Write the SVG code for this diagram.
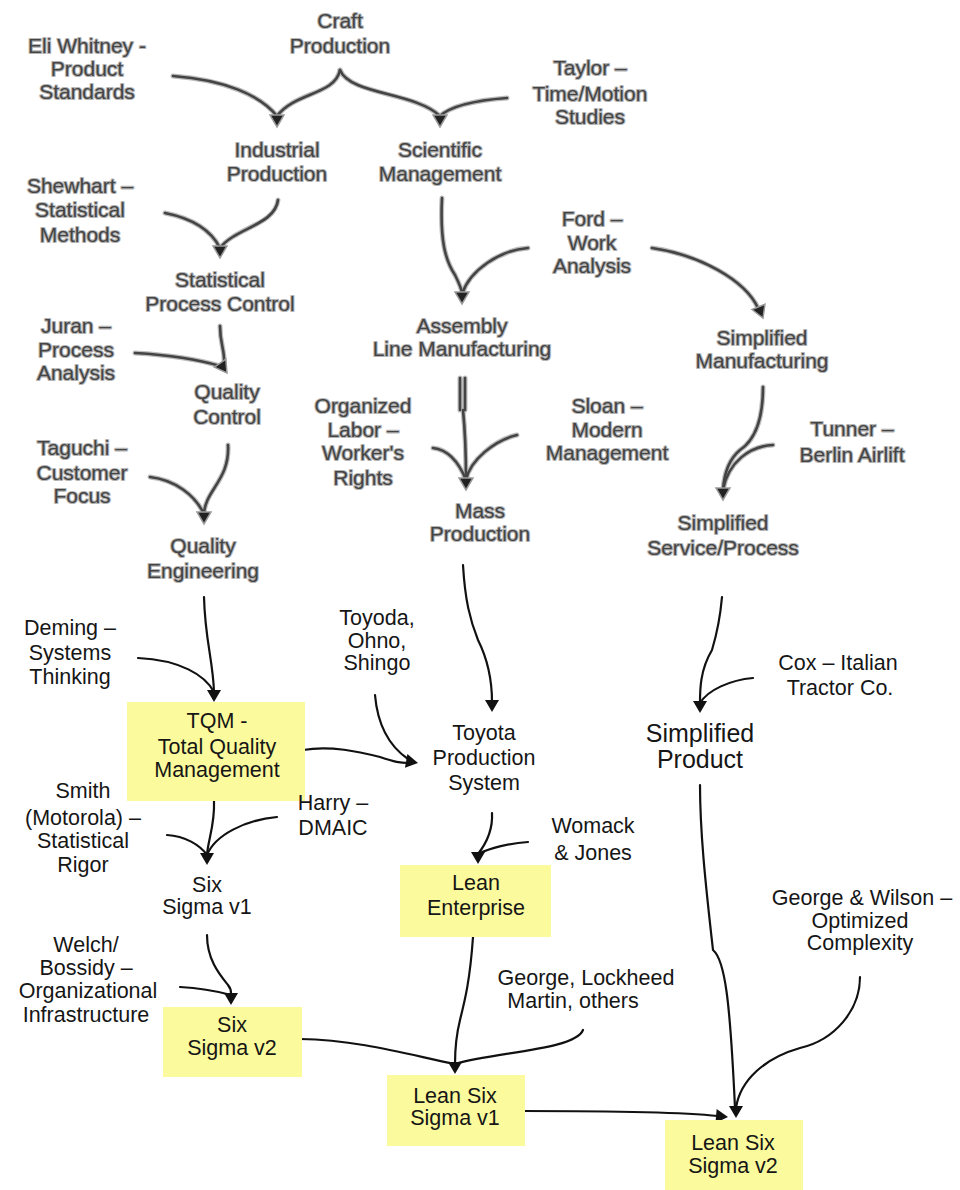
<svg xmlns="http://www.w3.org/2000/svg" xmlns:xlink="http://www.w3.org/1999/xlink" width="960" height="1190" viewBox="0 0 960 1190">
  <style>
    text { font-family: "Liberation Sans", Arial, sans-serif; font-size: 21px; text-anchor: middle; }
    .old { fill: #444; stroke: #b4b4b4; stroke-width: 2.2px; paint-order: stroke; stroke-linejoin: round; }
    .new { fill: #161616; font-size: 21.5px; }
    .big { font-size: 25px; }
    .box { fill: #fbfa9c; }
    .c-old { fill: none; stroke: #444; stroke-width: 2.6; stroke-linecap: round; }
    .c-old-halo { fill: none; stroke: #bcbcbc; stroke-width: 5; stroke-linecap: round; }
    .c { fill: none; stroke: #111; stroke-width: 2.2; stroke-linecap: round; }
    .h-old { fill: #222; stroke: #9a9a9a; stroke-width: 1.5; }
    .h { fill: #111; }
  </style>
  <defs>
    <!-- arrowhead pointing down, tip at the origin -->
    <path id="head" d="M-7,-12 L7,-12 L0,0 Z"/>
  </defs>
  <rect width="960" height="1190" fill="#fff"/>

  <!-- connectors -->
  <g id="connectors">
    <g id="old-lines">
      <g class="c-old-halo">
        <path d="M173,76 C225,80 260,95 277,116"/>
        <path d="M340,70 C335,95 295,92 277,116"/>
        <path d="M340,70 C350,95 415,92 440,116"/>
        <path d="M507,98 C480,100 452,105 440,116"/>
        <path d="M165,213 C190,218 210,228 220,248"/>
        <path d="M278,200 C275,225 235,228 220,248"/>
        <path d="M442,198 C440,240 445,260 455,275 C460,285 462,290 462,294"/>
        <path d="M528,248 C500,250 470,270 462,294"/>
        <path d="M652,248 C700,255 745,280 758,308"/>
        <path d="M220,326 C220,345 225,350 224,363"/>
        <path d="M135,353 C170,355 200,360 220,366"/>
        <path d="M228,445 C230,480 205,490 204,514"/>
        <path d="M150,477 C175,480 195,495 204,514"/>
        <path d="M460,378 L460,410 M465,378 L465,410"/>
        <path d="M463,410 C466,440 466,460 466,480"/>
        <path d="M433,448 C450,450 460,465 466,480"/>
        <path d="M517,435 C495,440 470,460 466,480"/>
        <path d="M763,387 C763,420 755,440 740,450 C728,460 724,475 723,490"/>
        <path d="M773,445 C750,446 728,462 723,490"/>
      </g>
      <g class="c-old">
        <path d="M173,76 C225,80 260,95 277,116"/>
        <path d="M340,70 C335,95 295,92 277,116"/>
        <path d="M340,70 C350,95 415,92 440,116"/>
        <path d="M507,98 C480,100 452,105 440,116"/>
        <path d="M165,213 C190,218 210,228 220,248"/>
        <path d="M278,200 C275,225 235,228 220,248"/>
        <path d="M442,198 C440,240 445,260 455,275 C460,285 462,290 462,294"/>
        <path d="M528,248 C500,250 470,270 462,294"/>
        <path d="M652,248 C700,255 745,280 758,308"/>
        <path d="M220,326 C220,345 225,350 224,363"/>
        <path d="M135,353 C170,355 200,360 220,366"/>
        <path d="M228,445 C230,480 205,490 204,514"/>
        <path d="M150,477 C175,480 195,495 204,514"/>
        <path d="M460,378 L460,410 M465,378 L465,410"/>
        <path d="M463,410 C466,440 466,460 466,480"/>
        <path d="M433,448 C450,450 460,465 466,480"/>
        <path d="M517,435 C495,440 470,460 466,480"/>
        <path d="M763,387 C763,420 755,440 740,450 C728,460 724,475 723,490"/>
        <path d="M773,445 C750,446 728,462 723,490"/>
      </g>
      <g class="h-old">
        <use xlink:href="#head" transform="translate(277,127)"/>
        <use xlink:href="#head" transform="translate(440,127)"/>
        <use xlink:href="#head" transform="translate(220,258)"/>
        <use xlink:href="#head" transform="translate(462,304)"/>
        <use xlink:href="#head" transform="translate(763,318) rotate(-22)"/>
        <use xlink:href="#head" transform="translate(227,373) rotate(-35)"/>
        <use xlink:href="#head" transform="translate(204,524)"/>
        <use xlink:href="#head" transform="translate(466,490)"/>
        <use xlink:href="#head" transform="translate(723,500)"/>
      </g>
    </g>
    <g id="new-lines">
      <g class="c">
        <path d="M204,597 C205,640 213,660 214,692"/>
        <path d="M138,658 C180,660 205,675 214,692"/>
        <path d="M375,695 C378,730 392,748 408,759"/>
        <path d="M303,750 C330,745 360,752 380,757 C395,762 400,763 408,763"/>
        <path d="M463,565 C465,600 470,620 478,640 C488,660 492,680 492,702"/>
        <path d="M722,597 C720,620 715,640 712,650 C700,670 700,690 700,703"/>
        <path d="M753,678 C730,680 708,690 700,703"/>
        <path d="M214,801 C215,825 208,840 207,855"/>
        <path d="M167,835 C185,836 200,845 207,855"/>
        <path d="M277,817 C245,820 215,835 207,855"/>
        <path d="M492,813 C493,830 485,845 478,854"/>
        <path d="M528,842 C510,843 490,848 478,854"/>
        <path d="M207,935 C207,960 220,975 228,985 C232,990 231,993 231,995"/>
        <path d="M180,987 C200,988 220,992 231,995"/>
        <path d="M473,937 C470,980 465,1000 460,1020 C455,1040 455,1055 455,1064"/>
        <path d="M300,1039 C360,1040 410,1055 455,1064"/>
        <path d="M583,1030 C575,1050 495,1052 455,1064"/>
        <path d="M700,785 C700,830 705,880 713,950 C725,960 730,1000 735,1108"/>
        <path d="M860,977 C860,1010 835,1040 800,1048 C765,1058 740,1080 736,1108"/>
        <path d="M523,1111 C600,1111 680,1112 718,1116"/>
      </g>
      <g class="h">
        <use xlink:href="#head" transform="translate(214,702)"/>
        <use xlink:href="#head" transform="translate(418,763) rotate(-80)"/>
        <use xlink:href="#head" transform="translate(492,712)"/>
        <use xlink:href="#head" transform="translate(700,713)"/>
        <use xlink:href="#head" transform="translate(207,865)"/>
        <use xlink:href="#head" transform="translate(478,864)"/>
        <use xlink:href="#head" transform="translate(231,1005)"/>
        <use xlink:href="#head" transform="translate(455,1074)"/>
        <use xlink:href="#head" transform="translate(736,1118)"/>
        <use xlink:href="#head" transform="translate(728,1117) rotate(-85)"/>
      </g>
    </g>
  </g>

  <!-- early production methods -->
  <g id="craft-production"><text class="old"><tspan x="340" y="28">Craft</tspan><tspan x="340" y="53">Production</tspan></text></g>
  <g id="eli-whitney"><text class="old"><tspan x="87" y="53">Eli Whitney -</tspan><tspan x="87" y="76">Product</tspan><tspan x="87" y="99">Standards</tspan></text></g>
  <g id="taylor"><text class="old"><tspan x="590" y="75">Taylor –</tspan><tspan x="590" y="101">Time/Motion</tspan><tspan x="590" y="124">Studies</tspan></text></g>
  <g id="industrial-production"><text class="old"><tspan x="277" y="157">Industrial</tspan><tspan x="277" y="181">Production</tspan></text></g>
  <g id="scientific-management"><text class="old"><tspan x="440" y="157">Scientific</tspan><tspan x="440" y="181">Management</tspan></text></g>
  <g id="shewhart"><text class="old"><tspan x="80" y="193">Shewhart –</tspan><tspan x="80" y="217">Statistical</tspan><tspan x="80" y="242">Methods</tspan></text></g>
  <g id="ford"><text class="old"><tspan x="592" y="226">Ford –</tspan><tspan x="592" y="250">Work</tspan><tspan x="592" y="273">Analysis</tspan></text></g>
  <g id="statistical-process-control"><text class="old"><tspan x="220" y="287">Statistical</tspan><tspan x="220" y="311">Process Control</tspan></text></g>
  <g id="assembly-line"><text class="old"><tspan x="462" y="333">Assembly</tspan><tspan x="462" y="356">Line Manufacturing</tspan></text></g>
  <g id="simplified-manufacturing"><text class="old"><tspan x="762" y="345">Simplified</tspan><tspan x="762" y="368">Manufacturing</tspan></text></g>
  <g id="juran"><text class="old"><tspan x="76" y="333">Juran –</tspan><tspan x="76" y="357">Process</tspan><tspan x="76" y="380">Analysis</tspan></text></g>
  <g id="quality-control"><text class="old"><tspan x="227" y="399">Quality</tspan><tspan x="227" y="424">Control</tspan></text></g>
  <g id="organized-labor"><text class="old"><tspan x="363" y="413">Organized</tspan><tspan x="363" y="437">Labor –</tspan><tspan x="363" y="460">Worker's</tspan><tspan x="363" y="485">Rights</tspan></text></g>
  <g id="sloan"><text class="old"><tspan x="607" y="413">Sloan –</tspan><tspan x="607" y="437">Modern</tspan><tspan x="607" y="460">Management</tspan></text></g>
  <g id="tunner"><text class="old"><tspan x="852" y="436">Tunner –</tspan><tspan x="852" y="462">Berlin Airlift</tspan></text></g>
  <g id="taguchi"><text class="old"><tspan x="82" y="455">Taguchi –</tspan><tspan x="82" y="480">Customer</tspan><tspan x="82" y="503">Focus</tspan></text></g>
  <g id="mass-production"><text class="old"><tspan x="480" y="518">Mass</tspan><tspan x="480" y="541">Production</tspan></text></g>
  <g id="simplified-service"><text class="old"><tspan x="723" y="530">Simplified</tspan><tspan x="723" y="555">Service/Process</tspan></text></g>
  <g id="quality-engineering"><text class="old"><tspan x="203" y="553">Quality</tspan><tspan x="203" y="578">Engineering</tspan></text></g>

  <!-- later methods -->
  <g id="deming"><text class="new"><tspan x="70" y="635">Deming –</tspan><tspan x="70" y="660">Systems</tspan><tspan x="70" y="684">Thinking</tspan></text></g>
  <g id="toyoda"><text class="new"><tspan x="377" y="625">Toyoda,</tspan><tspan x="377" y="648">Ohno,</tspan><tspan x="377" y="670">Shingo</tspan></text></g>
  <g id="cox"><text class="new"><tspan x="838" y="670">Cox – Italian</tspan><tspan x="840" y="695">Tractor Co.</tspan></text></g>
  <g id="tqm">
    <rect class="box" x="127" y="702" width="178" height="99"/>
    <text class="new"><tspan x="217" y="728">TQM -</tspan><tspan x="217" y="754">Total Quality</tspan><tspan x="217" y="777">Management</tspan></text>
  </g>
  <g id="toyota-production-system"><text class="new"><tspan x="484" y="740">Toyota</tspan><tspan x="484" y="765">Production</tspan><tspan x="484" y="790">System</tspan></text></g>
  <g id="simplified-product"><text class="new big"><tspan x="700" y="742">Simplified</tspan><tspan x="700" y="768">Product</tspan></text></g>
  <g id="smith"><text class="new"><tspan x="83" y="798">Smith</tspan><tspan x="83" y="825">(Motorola) –</tspan><tspan x="83" y="848">Statistical</tspan><tspan x="83" y="872">Rigor</tspan></text></g>
  <g id="harry"><text class="new"><tspan x="333" y="810">Harry –</tspan><tspan x="333" y="835">DMAIC</tspan></text></g>
  <g id="womack-jones"><text class="new"><tspan x="593" y="833">Womack</tspan><tspan x="593" y="860">&amp; Jones</tspan></text></g>
  <g id="six-sigma-v1"><text class="new"><tspan x="207" y="892">Six</tspan><tspan x="207" y="914">Sigma v1</tspan></text></g>
  <g id="lean-enterprise">
    <rect class="box" x="400" y="865" width="151" height="72"/>
    <text class="new"><tspan x="476" y="890">Lean</tspan><tspan x="476" y="915">Enterprise</tspan></text>
  </g>
  <g id="george-wilson"><text class="new"><tspan x="862" y="905">George &amp; Wilson –</tspan><tspan x="860" y="928">Optimized</tspan><tspan x="860" y="950">Complexity</tspan></text></g>
  <g id="welch-bossidy"><text class="new"><tspan x="86" y="952">Welch/</tspan><tspan x="86" y="975">Bossidy –</tspan><tspan x="88" y="998">Organizational</tspan><tspan x="86" y="1022">Infrastructure</tspan></text></g>
  <g id="george-lockheed"><text class="new"><tspan x="586" y="985">George, Lockheed</tspan><tspan x="573" y="1008">Martin, others</tspan></text></g>
  <g id="six-sigma-v2">
    <rect class="box" x="163" y="1007" width="139" height="70"/>
    <text class="new"><tspan x="232" y="1032">Six</tspan><tspan x="232" y="1055">Sigma v2</tspan></text>
  </g>
  <g id="lean-six-sigma-v1">
    <rect class="box" x="387" y="1075" width="138" height="71"/>
    <text class="new"><tspan x="455" y="1103">Lean Six</tspan><tspan x="455" y="1125">Sigma v1</tspan></text>
  </g>
  <g id="lean-six-sigma-v2">
    <rect class="box" x="665" y="1120" width="138" height="70"/>
    <text class="new"><tspan x="733" y="1150">Lean Six</tspan><tspan x="733" y="1173">Sigma v2</tspan></text>
  </g>
</svg>
